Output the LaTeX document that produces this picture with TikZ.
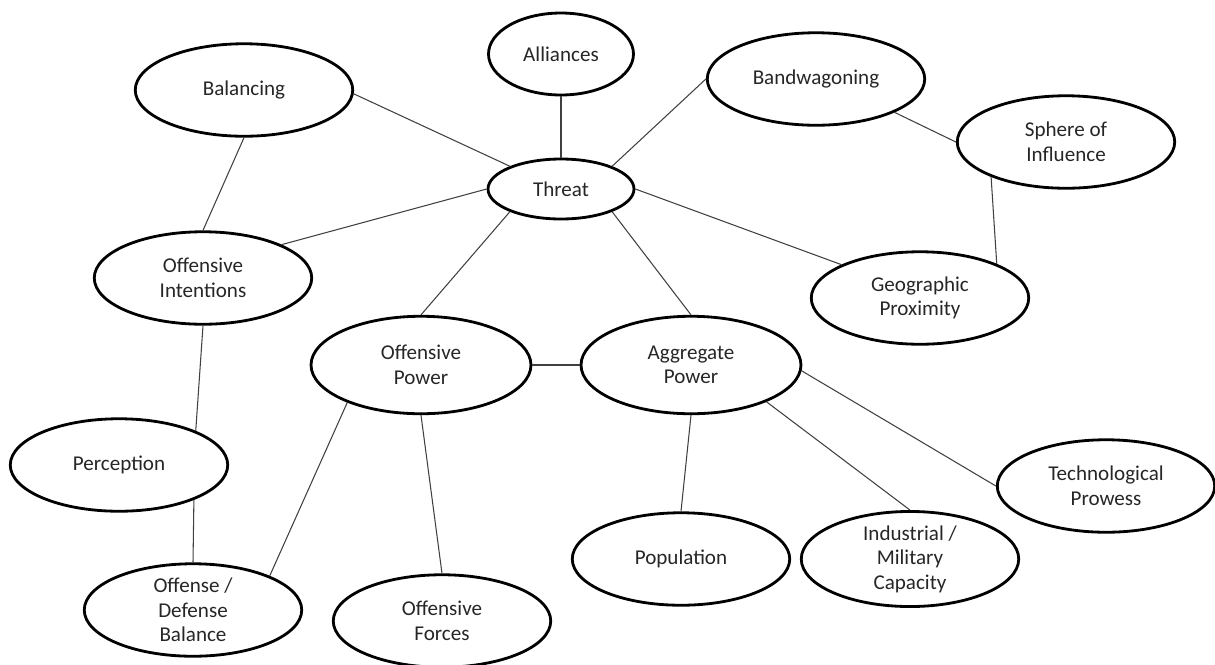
\documentclass[tikz,border=0pt]{standalone}
\usepackage{fontspec}
\setmainfont{Carlito}
\usetikzlibrary{shapes.geometric}

\begin{document}
\begin{tikzpicture}[x=0.02cm,y=-0.02cm,
    concept/.style={ellipse,draw,line width=1.6pt,inner sep=0pt,align=center,
        text=black!85,font=\fontsize{12}{14}\selectfont,
        minimum width=4.35cm,minimum height=1.85cm},
    link/.style={line width=0.6pt,black!75}]
    \useasboundingbox (0,0) rectangle (1215,664);
    \node (balancing) [concept] at (244,90) {Balancing};
    \node (alliances) [concept,minimum width=2.9cm,minimum height=1.64cm] at (561,54) {Alliances};
    \node (bandwagoning) [concept] at (816,79) {Bandwagoning};
    \node (sphere) [concept] at (1066,142) {Sphere of\\Influence};
    \node (threat) [concept,minimum width=2.92cm,minimum height=1.2cm] at (561,189) {Threat};
    \node (off_int) [concept] at (203,278) {Offensive\\Intentions};
    \node (geo) [concept] at (920,298) {Geographic\\Proximity};
    \node (off_pow) [concept,minimum width=4.4cm,minimum height=1.95cm] at (421,365) {Offensive\\Power};
    \node (agg_pow) [concept,minimum width=4.4cm,minimum height=1.95cm] at (691,365) {Aggregate\\Power};
    \node (perception) [concept] at (119,465) {Perception};
    \node (tech) [concept] at (1106,486) {Technological\\Prowess};
    \node (population) [concept] at (681,559) {Population};
    \node (industrial) [concept] at (910,559) {Industrial /\\Military\\Capacity};
    \node (off_def) [concept] at (193,610) {Offense /\\Defense\\Balance};
    \node (off_for) [concept] at (442,621) {Offensive\\Forces};
    \draw [-,link] (balancing.-2) to (threat.156);
    \draw [-,link] (balancing.south) to (off_int.north);
    \draw [-,link] (alliances.south) to (threat.north);
    \draw [-,link] (bandwagoning.west) to (threat.24);
    \draw [-,link] (bandwagoning.-23) to (sphere.west);
    \draw [-,link] (sphere.205) to (geo.24);
    \draw [-,link] (threat.east) to (geo.157);
    \draw [-,link] (threat.west) to (off_int.23);
    \draw [-,link] (threat.204) to (off_pow.north);
    \draw [-,link] (threat.-24) to (agg_pow.north);
    \draw [-,link] (off_pow) to (agg_pow);
    \draw [-,link] (off_int.south) to (perception.24);
    \draw [-,link] (perception.-25) to (off_def.north);
    \draw [-,link] (off_pow.207) to (off_def.24);
    \draw [-,link] (off_pow.south) to (off_for.north);
    \draw [-,link] (agg_pow.south) to (population.north);
    \draw [-,link] (agg_pow.-26) to (industrial.north);
    \draw [-,link] (agg_pow.-3) to (tech.west);
\end{tikzpicture}
\end{document}
